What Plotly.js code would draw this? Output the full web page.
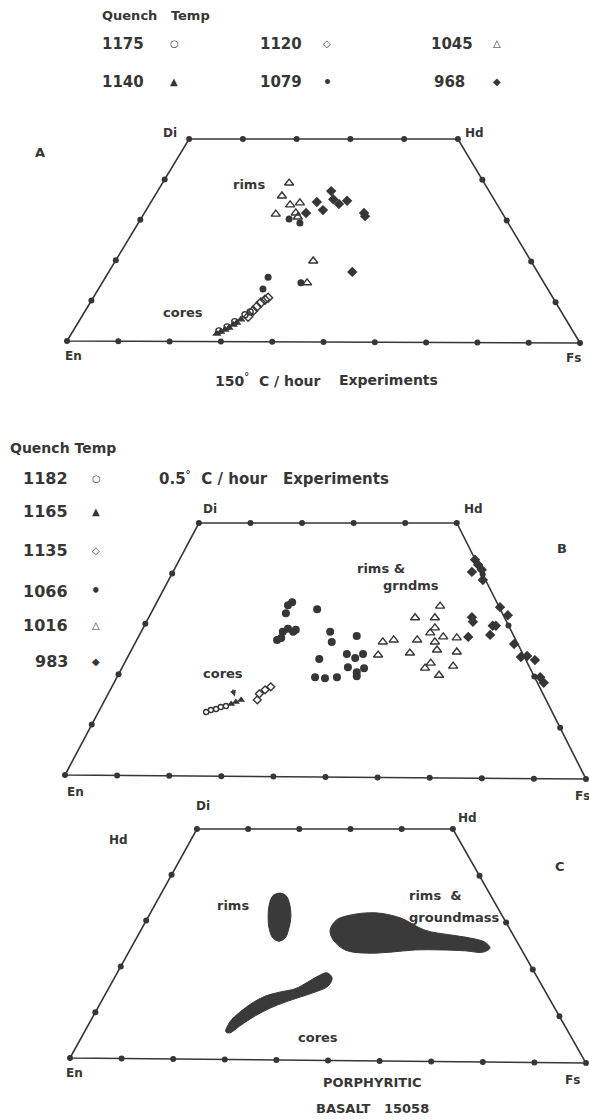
<!DOCTYPE html>
<html><head><meta charset="utf-8">
<script src="https://cdn.plot.ly/plotly-3.0.1.min.js"></script>
<style>html,body{margin:0;padding:0;background:#fff}</style>
</head><body><div id="chart" style="width:589px;height:1120px"></div>
<script>
// ---------- DATA (x: position along En–Fs base, 0–100; y: Wo, 0–50) ----------
// Quadrilateral corners per panel: En, Di, Hd, Fs
const aCornerX = [0, 23.8, 76.2, 100], aCornerY = [0, 50, 50, -0.5];
const bCornerX = [0, 25.7, 75.2, 100], bCornerY = [0, 50, 50, -0.8];
const cCornerX = [0, 24.6, 74.2, 100], cCornerY = [0, 50, 50, -1.1];
const baseTicks = [0, 10, 20, 30, 40, 50, 60, 70, 80, 90, 100];
const sideTicks = [10, 20, 30, 40];
const topTicks = [0, 0.2, 0.4, 0.6, 0.8, 1];

// Panel A: 150 C/hour experiments
const aLegendTemps = ['1175', '1120', '1045', '1140', '1079', '968'];
const a1140X = [29.2, 30.0, 30.8, 31.6, 32.4, 33.1, 33.9], a1140Y = [1.8, 2.3, 2.8, 3.3, 4.0, 4.5, 5.3];
const a1175X = [29.6, 31.2, 32.7, 34.7, 35.7], a1175Y = [2.5, 3.5, 4.8, 6.5, 7.2];
const a1120X = [35.3, 36.3, 37.0, 37.8, 38.6, 39.2], a1120Y = [6.0, 7.5, 8.5, 9.5, 10.2, 10.7];
const a1079X = [43.3, 45.4, 39.2, 38.2, 45.6], a1079Y = [30.2, 29.2, 15.8, 12.9, 14.4];
const a1045X = [43.3, 41.9, 43.5, 45.4, 40.7, 44.6, 45.0, 48.0, 46.8];
const a1045Y = [39.1, 35.9, 33.7, 34.2, 31.4, 31.7, 30.7, 19.8, 14.4];
const a968X = [51.5, 51.9, 53.0, 54.6, 48.7, 49.9, 46.6, 57.9, 58.1, 55.6];
const a968Y = [37.1, 35.1, 33.9, 34.7, 34.4, 32.4, 31.7, 31.7, 30.9, 17.1];

// Panel B: 0.5 C/hour experiments
const bLegendTemps = ['1182', '1165', '1135', '1066', '1016', '983'];
const b1182X = [27.1, 28.0, 29.0, 29.9, 30.9], b1182Y = [12.5, 12.9, 13.1, 13.5, 13.7];
const b1165X = [31.9, 32.8, 33.8], b1165Y = [14.1, 14.5, 14.9];
const b1135X = [36.9, 37.3, 38.4, 39.5], b1135Y = [14.9, 16.1, 16.9, 17.5];
const b1066X = [43.6, 42.8, 42.4, 48.4, 41.8, 42.8, 43.8, 44.3, 40.7, 41.5, 50.9, 51.2, 56.0, 48.8, 54.1, 55.7, 57.2, 54.3, 56.0, 57.4, 48.0, 49.9, 52.2, 56.0];
const b1066Y = [34.3, 33.7, 32.1, 32.9, 28.4, 29.0, 28.4, 28.8, 26.8, 27.2, 28.4, 26.4, 27.6, 23.0, 24.0, 23.2, 24.0, 21.4, 20.4, 21.2, 19.4, 19.2, 19.4, 19.6];
const b1016X = [72.0, 67.2, 71.0, 71.0, 70.1, 72.6, 61.0, 63.1, 67.6, 71.0, 75.2, 75.2, 71.4, 66.2, 60.1, 70.2, 69.1, 74.5, 71.8];
const b1016Y = [33.5, 31.2, 31.2, 29.2, 28.2, 27.4, 26.4, 26.8, 26.8, 26.4, 27.2, 24.4, 24.8, 24.2, 23.8, 22.2, 21.2, 21.6, 19.8];
const b983X = [78.7, 79.3, 80.0, 78.1, 80.2, 83.5, 85.0, 78.1, 78.3, 82.1, 82.7, 77.4, 81.6, 86.2, 87.5, 88.7, 90.2, 91.2, 91.9];
const b983Y = [42.7, 41.7, 40.7, 40.3, 38.7, 33.3, 31.7, 31.3, 30.4, 29.6, 29.6, 27.4, 27.8, 26.0, 23.4, 23.6, 22.8, 19.4, 18.3];
const bCoresArrowHead = [32.6, 15.6], bCoresArrowTail = [31.6, 18.8];

// Panel C: porphyritic basalt 15058 — composition fields (outlines)
const cRimsX = [40.7, 41.9, 42.6, 42.8, 42.4, 41.7, 40.5, 39.3, 38.6, 38.4, 38.6, 39.3];
const cRimsY = [36.0, 35.4, 33.4, 30.8, 28.2, 26.2, 25.5, 26.2, 28.2, 30.8, 33.4, 35.4];
const cGroundX = [50.4, 51.6, 54.3, 59.1, 64.0, 68.8, 73.6, 77.5, 80.4, 81.4, 80.0, 76.6, 71.7, 66.9, 62.0, 57.2, 53.3, 51.0];
const cGroundY = [27.9, 30.1, 31.2, 31.7, 30.6, 27.9, 26.9, 26.2, 25.3, 24.0, 23.1, 23.4, 23.6, 23.6, 23.1, 22.9, 23.6, 25.8];
const cCoresX = [30.2, 31.0, 32.9, 35.3, 37.8, 40.7, 43.6, 46.1, 48.1, 49.8, 50.8, 50.0, 47.5, 44.6, 41.7, 38.8, 35.9, 32.9, 31.0];
const cCoresY = [5.7, 7.9, 10.0, 12.0, 13.5, 14.4, 15.1, 16.6, 17.9, 18.6, 17.5, 15.7, 14.4, 13.3, 12.2, 10.9, 9.2, 7.0, 5.5];

// ---------- DRAWING ----------
const INK = '#363636';
const W = 589, H = 1120;
const FONT = 'DejaVu Sans, Liberation Sans, sans-serif';
const PADX = 0.4, PADY = 3;

function frameTraces(cx, cy, xa, ya) {
  const traces = [];
  traces.push({x: [cx[0], cx[1], cx[2], cx[3], cx[0]], y: [cy[0], cy[1], cy[2], cy[3], cy[0]],
    mode: 'lines', line: {color: INK, width: 1.6}, xaxis: xa, yaxis: ya, hoverinfo: 'skip'});
  const tx = [], ty = [];
  baseTicks.forEach(t => { tx.push(t); ty.push(cy[3] * t / 100); });
  topTicks.forEach(f => { tx.push(cx[1] + f * (cx[2] - cx[1])); ty.push(50); });
  sideTicks.forEach(w => {
    tx.push(cx[0] + (w / 50) * (cx[1] - cx[0])); ty.push(w);
    tx.push(cx[3] + (w / 50) * (cx[2] - cx[3])); ty.push(cy[3] + (w / 50) * (50 - cy[3]));
  });
  traces.push({x: tx, y: ty, mode: 'markers', marker: {color: INK, size: 6}, xaxis: xa, yaxis: ya,
    hoverinfo: 'skip', cliponaxis: false});
  return traces;
}
function pts(x, y, symbol, size, xa, ya) {
  const open = symbol.indexOf('open') >= 0;
  return {x: x, y: y, mode: 'markers', xaxis: xa, yaxis: ya, cliponaxis: false, hoverinfo: 'skip',
    marker: {symbol: symbol, size: size, color: INK, line: {color: INK, width: open ? 1.4 : 0}}};
}
function region(x, y, xa, ya) {
  return {x: x.concat([x[0]]), y: y.concat([y[0]]), mode: 'lines', fill: 'toself', fillcolor: '#3a3a3a',
    line: {color: '#3a3a3a', width: 1, shape: 'spline', smoothing: 1}, xaxis: xa, yaxis: ya, hoverinfo: 'skip'};
}

const traces = [].concat(
  frameTraces(aCornerX, aCornerY, 'x', 'y'),
  [pts(a1140X, a1140Y, 'triangle-up', 8, 'x', 'y'),
   pts(a1175X, a1175Y, 'circle-open', 6, 'x', 'y'),
   pts(a1120X, a1120Y, 'diamond-open', 7, 'x', 'y'),
   pts(a1079X, a1079Y, 'circle', 7, 'x', 'y'),
   pts(a1045X, a1045Y, 'triangle-up-open', 8, 'x', 'y'),
   pts(a968X, a968Y, 'diamond', 8, 'x', 'y')],
  frameTraces(bCornerX, bCornerY, 'x2', 'y2'),
  [pts(b1182X, b1182Y, 'circle-open', 5, 'x2', 'y2'),
   pts(b1165X, b1165Y, 'triangle-up', 7, 'x2', 'y2'),
   pts(b1135X, b1135Y, 'diamond-open', 6, 'x2', 'y2'),
   pts(b1066X, b1066Y, 'circle', 8, 'x2', 'y2'),
   pts(b1016X, b1016Y, 'triangle-up-open', 8, 'x2', 'y2'),
   pts(b983X, b983Y, 'diamond', 8, 'x2', 'y2')],
  frameTraces(cCornerX, cCornerY, 'x3', 'y3'),
  [region(cRimsX, cRimsY, 'x3', 'y3'),
   region(cGroundX, cGroundY, 'x3', 'y3'),
   region(cCoresX, cCoresY, 'x3', 'y3')]
);

// axes: l/r = pixel of x=0 / x=100, b/t = pixel of y=0 / y=50 (padding keeps the frame unclipped)
function ax(l, r, anchor) {
  const s = (r - l) / 100;
  return {domain: [(l - PADX * s) / W, (r + PADX * s) / W], range: [-PADX, 100 + PADX],
    visible: false, fixedrange: true, anchor: anchor};
}
function ay(b, t, anchor) {
  const s = (b - t) / 50;
  return {domain: [1 - (b + PADY * s) / H, 1 - (t - PADY * s) / H], range: [-PADY, 50 + PADY],
    visible: false, fixedrange: true, anchor: anchor};
}

function T(text, px, py, size, xanchor) {
  return {text: text, x: px / W, y: 1 - py / H, xref: 'paper', yref: 'paper', showarrow: false,
    xanchor: xanchor || 'center', yanchor: 'middle', font: {family: FONT, size: size || 13, color: INK, weight: 'bold'}};
}
const sym = {'1175': '○', '1120': '◇', '1045': '△', '1140': '▲', '1079': '•', '968': '◆',
             '1182': '○', '1165': '▲', '1135': '◇', '1066': '•', '1016': '△', '983': '◆'};

const ann = [];
// Panel A legend
ann.push(T('Quench   Temp', 100, 16, 13, 'left'));
const aCols = [[100, 174], [258, 327], [429, 497]];
aLegendTemps.forEach((t, i) => {
  const c = aCols[i % 3], y = i < 3 ? 44 : 82;
  ann.push(T(t, c[0] + (t.length === 3 ? 3 : 0), y, 15, 'left'));
  ann.push(T(sym[t], c[1], y, t === '1079' ? 14 : 10));
});
// Panel A labels
ann.push(T('A', 40, 153, 13), T('Di', 170, 133, 12), T('Hd', 475, 133, 12),
         T('rims', 249, 185, 13), T('cores', 183, 312, 13),
         T('En', 73, 356, 12), T('Fs', 573, 358, 12),
         T('150<sup>°</sup>  C / hour', 268, 380, 14), T('Experiments', 388, 380, 14));
// Panel B legend
ann.push(T('Quench Temp', 8, 448, 14, 'left'));
const bRows = [478, 512, 551, 591, 625, 661];
bLegendTemps.forEach((t, i) => {
  ann.push(T(t, 70, bRows[i], 16, 'right'));
  ann.push(T(sym[t], 96, bRows[i], t === '1066' ? 15 : 10));
});
ann.push(T('0.5<sup>°</sup>  C / hour   Experiments', 157, 478, 15, 'left'),
         T('Di', 210, 509, 12), T('Hd', 473, 509, 12), T('B', 562, 549, 13),
         T('rims &', 381, 568, 13), T('grndms', 411, 585, 13), T('cores', 223, 673, 13),
         T('En', 75, 792, 12), T('Fs', 582, 796, 12));
ann.push({x: bCoresArrowHead[0], y: bCoresArrowHead[1], ax: bCoresArrowTail[0], ay: bCoresArrowTail[1],
  xref: 'x2', yref: 'y2', axref: 'x2', ayref: 'y2', showarrow: true, arrowhead: 2, arrowsize: 1,
  arrowwidth: 1.2, arrowcolor: INK, text: ' '});
// Panel C labels
ann.push(T('Di', 203, 806, 12), T('Hd', 468, 818, 12), T('Hd', 118, 840, 12), T('C', 560, 866, 13),
         T('rims', 233, 905, 13), T('rims  &', 407, 895, 13, 'left'), T('groundmass', 407, 917, 13, 'left'),
         T('cores', 318, 1037, 13), T('En', 74, 1073, 12), T('Fs', 572, 1080, 12),
         T('PORPHYRITIC', 372, 1082, 13), T('BASALT   15058', 372, 1108, 13));

const layout = {
  width: W, height: H, margin: {l: 0, r: 0, t: 0, b: 0}, showlegend: false,
  paper_bgcolor: '#ffffff', plot_bgcolor: 'rgba(0,0,0,0)',
  xaxis: ax(67, 580, 'y'), yaxis: ay(341, 139, 'x'),
  xaxis2: ax(65, 586, 'y2'), yaxis2: ay(775, 523, 'x2'),
  xaxis3: ax(70, 586, 'y3'), yaxis3: ay(1058, 829, 'x3'),
  annotations: ann
};
Plotly.newPlot('chart', traces, layout, {staticPlot: true, displayModeBar: false});
</script></body></html>
